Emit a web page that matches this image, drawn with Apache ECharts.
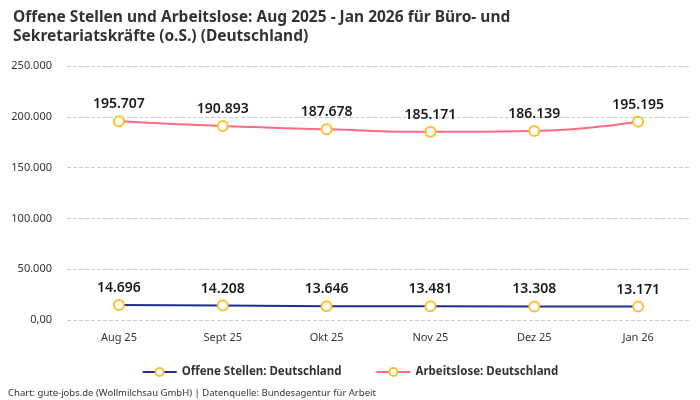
<!DOCTYPE html>
<html><head><meta charset="utf-8">
<script src="https://cdn.jsdelivr.net/npm/echarts@6/dist/echarts.min.js"></script>
<style>html,body{margin:0;padding:0;background:#fff}#c{width:700px;height:400px}</style>
</head><body><div id="c"></div>
<script>
const categories = ['Aug 25','Sept 25','Okt 25','Nov 25','Dez 25','Jan 26'];
const offeneStellen = [14696,14208,13646,13481,13308,13171];
const arbeitslose = [195707,190893,187678,185171,186139,195195];
const seriesNames = ['Offene Stellen: Deutschland','Arbeitslose: Deutschland'];

const FONT = '"Noto Sans", sans-serif';
const fmt = v => v === 0 ? '0,00' : v.toLocaleString('de-DE');
const chart = echarts.init(document.getElementById('c'));
function mk(name, data, color, smooth){
  return {
    name, type:'line', data, smooth,
    lineStyle:{color, width:2},
    itemStyle:{color:'#fff', borderColor:'#fbc02d', borderWidth:2},
    symbol:'circle', symbolSize:10,
    label:{show:true, position:'top', distance:4, formatter:p=>fmt(p.value),
      fontFamily:FONT, fontSize:14, fontWeight:600, color:'#1a1a1a'}
  };
}
chart.setOption({
  animation:false,
  textStyle:{fontFamily:FONT},
  title:{text:'Offene Stellen und Arbeitslose: Aug 2025 - Jan 2026 für Büro- und\nSekretariatskräfte (o.S.) (Deutschland)',
    left:8, top:3, textStyle:{fontFamily:FONT, fontSize:15.5, fontWeight:'bold', color:'#333', lineHeight:19}},
  grid:{left:67, right:10, top:66, bottom:80},
  xAxis:{type:'category', data:categories, boundaryGap:true,
    axisLine:{show:false}, axisTick:{show:false},
    axisLabel:{color:'#333', fontSize:11, margin:12, fontFamily:FONT}},
  yAxis:{type:'value', min:0, max:250000, interval:50000,
    axisLabel:{formatter:fmt, color:'#333', fontSize:11, margin:15, fontFamily:FONT},
    splitLine:{lineStyle:{type:'dashed', color:'#ccc'}}},
  legend:{bottom:17, left:'center', itemWidth:34, itemHeight:10, itemGap:34,
    textStyle:{fontFamily:FONT, fontSize:11.5, fontWeight:'bold', color:'#333'},
    data:seriesNames},
  graphic:[{type:'text', left:8, top:388, style:{text:'Chart: gute-jobs.de (Wollmilchsau GmbH) | Datenquelle: Bundesagentur für Arbeit', font:'9.5px "Noto Sans", sans-serif', fill:'#333'}}],
  series:[
    mk(seriesNames[0], offeneStellen, '#1f2d8f', false),
    mk(seriesNames[1], arbeitslose, '#ff6b81', true)
  ]
});
</script></body></html>
